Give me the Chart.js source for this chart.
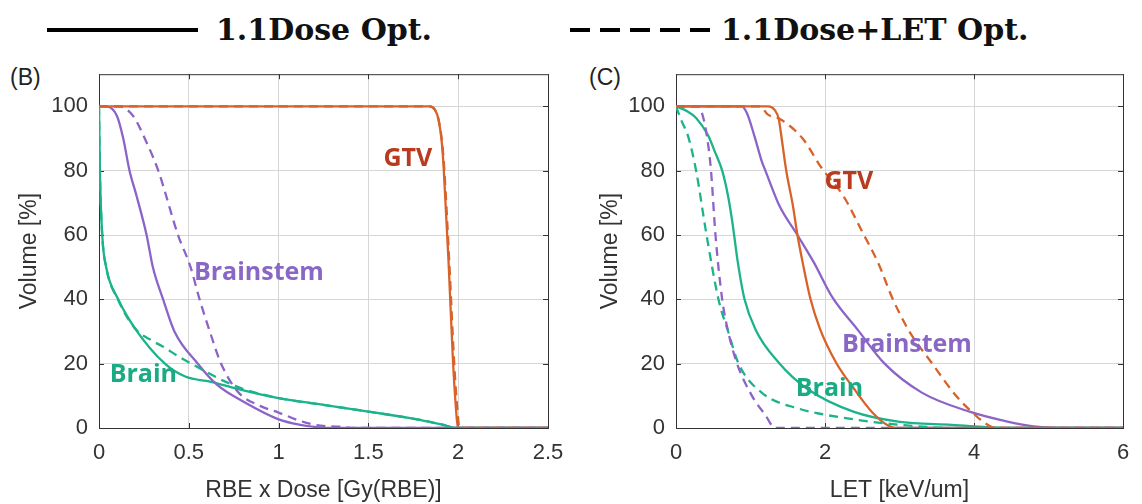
<!DOCTYPE html>
<html>
<head>
<meta charset="utf-8">
<script src="https://cdn.jsdelivr.net/npm/chart.js@4.4.1/dist/chart.umd.min.js"></script>
<style>
  body { margin: 0; background: #fff; }
  #wrap { position: relative; width: 1142px; height: 504px; overflow: hidden; }
  .lg-text { position: absolute; top: 12px; font-family: "DejaVu Serif", serif; font-weight: bold; font-size: 30px; color: #111; white-space: nowrap; }
  .lg-line { position: absolute; top: 28px; height: 4px; }
  .panel-tag { position: absolute; top: 64px; font-family: "Liberation Sans", Arial, sans-serif; font-size: 23px; color: #222; }
  canvas { position: absolute; }
</style>
</head>
<body>
<div id="wrap">
  <div class="lg-line" style="left:47px;width:151px;background:#000"></div>
  <div class="lg-text" style="left:216px">1.1Dose Opt.</div>
  <div class="lg-line" style="left:570px;width:140px;background:repeating-linear-gradient(90deg,#000 0 20px,transparent 20px 30px)"></div>
  <div class="lg-text" style="left:721px">1.1Dose+LET Opt.</div>
  <div class="panel-tag" style="left:10px">(B)</div>
  <div class="panel-tag" style="left:589px">(C)</div>
  <div style="position:absolute;left:0;top:50px;width:580px;height:454px"><canvas id="dose"></canvas></div>
  <div style="position:absolute;left:570px;top:50px;width:572px;height:454px"><canvas id="let"></canvas></div>
</div>
<script>
// ---- data ----
const yTicks = [0, 20, 40, 60, 80, 100]
const doseTicks = [0, 0.5, 1, 1.5, 2, 2.5]
const letTicks = [0, 2, 4, 6]

// (B) RBE x Dose [Gy(RBE)] vs Volume [%]
const doseGtvSolid = [[0,100],[1.84,100],[1.87,99],[1.89,96],[1.91,88],[1.92,80],[1.946,52],[1.97,22],[1.985,8],[2.0,0],[2.5,0]]
const doseGtvDashed = [[0,100],[1.84,100],[1.87,99],[1.89,96],[1.912,88],[1.923,80],[1.95,52],[1.976,22],[1.992,8],[2.008,0],[2.5,0]]
const doseBrainstemSolid = [[0,100],[0.04,100],[0.1,97],[0.135,90],[0.17,80],[0.21,72],[0.265,60],[0.3,50],[0.357,40],[0.42,30],[0.55,20],[0.66,13.3],[0.81,8],[1.0,2.7],[1.12,1],[1.21,0.3],[1.3,0],[2.5,0]]
const doseBrainstemDashed = [[0,100],[0.107,100],[0.19,97],[0.255,90],[0.33,80],[0.44,60],[0.51,50],[0.56,40],[0.617,30],[0.68,20],[0.774,11.2],[0.9,6.8],[1.0,4.8],[1.12,2.2],[1.21,0.9],[1.34,0.4],[1.42,0],[2.5,0]]
const doseBrainSolid = [[0,100],[0.005,80],[0.018,60],[0.04,50],[0.107,40],[0.2,31],[0.367,20],[0.48,16],[0.63,14.3],[0.77,12.2],[1.0,9.3],[1.25,7.2],[1.5,5.1],[1.77,2.7],[1.9,1.2],[2.0,0],[2.5,0]]
const doseBrainDashed = [[0,100],[0.005,80],[0.018,60],[0.04,50],[0.105,40],[0.2,31],[0.3,27],[0.35,25.5],[0.45,22],[0.533,19.4],[0.63,16.5],[0.7,14.5],[0.8,12.2],[1.0,9.3],[1.25,7.2],[1.5,5.1],[1.77,2.7],[1.9,1.2],[2.0,0],[2.5,0]]

// (C) LET [keV/um] vs Volume [%]
const letGtvSolid = [[0,100],[1.24,100],[1.32,99],[1.38,96],[1.41,91.4],[1.48,80],[1.57,69],[1.63,60],[1.7,51.5],[1.8,40.6],[1.93,31],[2.15,20.3],[2.39,12.2],[2.63,5],[2.83,1],[2.95,0],[6,0]]
const letGtvDashed = [[0,100],[1.13,100],[1.23,97.5],[1.4,96],[1.7,90],[1.95,81],[2.25,72],[2.5,61],[2.72,51],[2.9,40.6],[3.12,30.5],[3.44,20],[3.76,10],[3.97,5],[4.15,1.5],[4.3,0],[6,0]]
const letBrainstemSolid = [[0,100],[0.88,100],[0.95,98],[1.05,91],[1.15,83],[1.2,80],[1.25,77],[1.39,69],[1.63,60],[1.85,51.5],[2.1,40.6],[2.44,30.5],[2.8,20],[3.3,11],[3.95,5],[4.45,2],[4.8,0.5],[5.2,0],[6,0]]
const letBrainstemDashed = [[0,100],[0.3,100],[0.36,97],[0.42,90],[0.47,80],[0.53,60],[0.62,40],[0.7,30],[0.82,20],[1.02,10],[1.2,4],[1.33,0],[6,0]]
const letBrainSolid = [[0,100],[0.15,98.5],[0.27,96.4],[0.43,91],[0.52,86],[0.62,80],[0.7,72],[0.75,65],[0.78,60],[0.83,51.5],[0.92,40],[1.07,30.5],[1.38,20.3],[1.76,12.2],[2.39,5],[2.98,2],[3.7,1],[4.5,0],[6,0]]
const letBrainDashed = [[0,100],[0.076,95.4],[0.165,90.5],[0.27,80],[0.41,60],[0.57,40],[0.7,30],[0.84,20],[1.15,11],[1.65,6],[2.3,3],[3.0,1],[3.8,0],[6,0]]

// curve names placed at [x, y] in data units
const doseLabels = [["GTV", 1.72, 83.6], ["Brainstem", 0.89, 48.3], ["Brain", 0.247, 16.4]]
const letLabels = [["GTV", 2.32, 76.5], ["Brainstem", 3.10, 25.7], ["Brain", 2.06, 12.3]]

const ORANGE = "#d9622b", PURPLE = "#8c63c8", GREEN = "#1bb38a"
const labelColors = {GTV: "#b83b1f", Brainstem: "#8967c5", Brain: "#1aaa84"}

Chart.defaults.font.family = "'Liberation Sans', Arial, sans-serif"
Chart.defaults.color = "#333"

function line(points, color, dashed) {
    return {
        data: points.map(p => ({x: p[0], y: p[1]})),
        borderColor: color,
        borderWidth: 2.3,
        borderDash: dashed ? [9, 6] : [],
        pointRadius: 0,
        fill: false,
        cubicInterpolationMode: "monotone"
    }
}

const framePlugin = {
    id: "frame",
    beforeDatasetsDraw(chart) {
        const {ctx, chartArea: a, scales} = chart
        ctx.save()
        ctx.strokeStyle = "#333"
        ctx.lineWidth = 1
        ctx.strokeRect(a.left + 0.5, a.top + 0.5, a.right - a.left, a.bottom - a.top)
        ctx.beginPath()
        scales.x.ticks.forEach(t => {
            const px = Math.round(scales.x.getPixelForValue(t.value)) + 0.5
            ctx.moveTo(px, a.bottom); ctx.lineTo(px, a.bottom - 5)
            ctx.moveTo(px, a.top); ctx.lineTo(px, a.top + 5)
        })
        scales.y.ticks.forEach(t => {
            const py = Math.round(scales.y.getPixelForValue(t.value)) + 0.5
            ctx.moveTo(a.left, py); ctx.lineTo(a.left + 5, py)
            ctx.moveTo(a.right, py); ctx.lineTo(a.right - 5, py)
        })
        ctx.stroke()
        ctx.restore()
    },
    afterDraw(chart, args, opts) {
        const {ctx, scales} = chart
        ctx.save()
        ctx.font = "bold 25px 'Open Sans', sans-serif"
        ctx.textAlign = "center"
        ctx.textBaseline = "middle"
        opts.items.forEach(l => {
            ctx.fillStyle = labelColors[l[0]]
            ctx.fillText(l[0], scales.x.getPixelForValue(l[1]), scales.y.getPixelForValue(l[2]))
        })
        ctx.restore()
    }
}

function makeChart(id, datasets, xTicks, xTitle, yAxisWidth, yTitlePad, rightPad, labels) {
    return new Chart(document.getElementById(id), {
        type: "line",
        data: {datasets: datasets},
        plugins: [framePlugin],
        options: {
            responsive: true,
            maintainAspectRatio: false,
            animation: false,
            events: [],
            layout: {padding: {left: 0, right: rightPad, top: 16, bottom: 0}},
            plugins: {
                legend: {display: false},
                tooltip: {enabled: false},
                frame: {items: labels}
            },
            scales: {
                x: {
                    type: "linear",
                    min: xTicks[0],
                    max: xTicks[xTicks.length - 1],
                    afterBuildTicks: s => { s.ticks = xTicks.map(v => ({value: v})) },
                    afterFit: s => { s.height = 76 },
                    ticks: {padding: 12, font: {size: 22}, maxRotation: 0, callback: v => String(v)},
                    grid: {color: "#d6d6d6", drawTicks: false},
                    border: {display: false},
                    title: {display: true, text: xTitle, font: {size: 23}, padding: {top: 0, bottom: 0}}
                },
                y: {
                    min: 0,
                    max: 110,
                    afterBuildTicks: s => { s.ticks = yTicks.map(v => ({value: v})) },
                    afterFit: s => { s.width = yAxisWidth },
                    ticks: {padding: 11, font: {size: 22}},
                    grid: {color: "#d6d6d6", drawTicks: false},
                    border: {display: false},
                    title: {display: true, text: "Volume [%]", font: {size: 23}, padding: {top: yTitlePad, bottom: 0}}
                }
            }
        }
    })
}

makeChart("dose", [
    line(doseGtvDashed, ORANGE, true),
    line(doseBrainstemDashed, PURPLE, true),
    line(doseBrainDashed, GREEN, true),
    line(doseGtvSolid, ORANGE, false),
    line(doseBrainstemSolid, PURPLE, false),
    line(doseBrainSolid, GREEN, false)
], doseTicks, "RBE x Dose [Gy(RBE)]", 99, 16, 32, doseLabels)

makeChart("let", [
    line(letGtvDashed, ORANGE, true),
    line(letBrainstemDashed, PURPLE, true),
    line(letBrainDashed, GREEN, true),
    line(letGtvSolid, ORANGE, false),
    line(letBrainstemSolid, PURPLE, false),
    line(letBrainSolid, GREEN, false)
], letTicks, "LET [keV/um]", 106, 27, 19, letLabels)
</script>
</body>
</html>
